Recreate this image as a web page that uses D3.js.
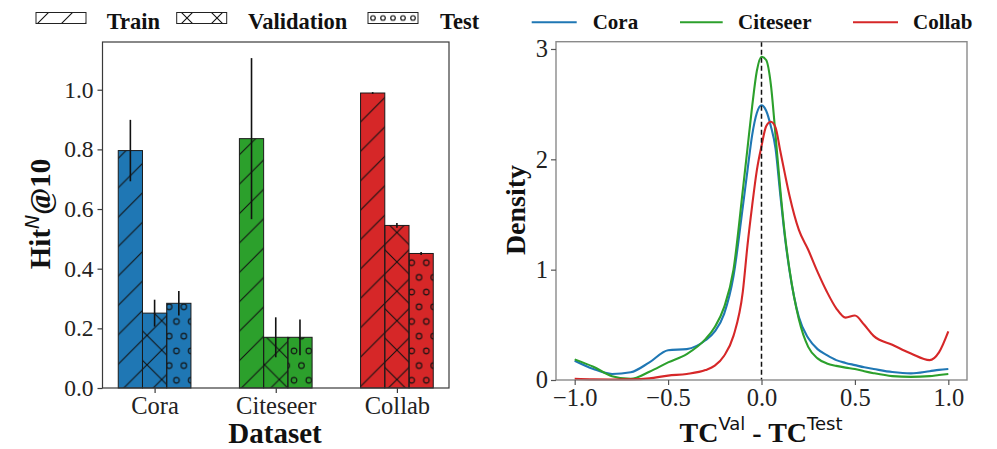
<!DOCTYPE html>
<html><head><meta charset="utf-8">
<script src="https://cdn.jsdelivr.net/npm/d3@7"></script>
<style>
body{margin:0;background:#fff}
svg{display:block}
text{font-family:"Liberation Serif","Times New Roman",serif}
</style>
</head><body>
<svg id="fig" width="997" height="449"></svg>
<script>
// ---- bar panel data: Hit^N@10 per dataset and split ----
const datasets = ["Cora", "Citeseer", "Collab"];
const splits = ["Train", "Validation", "Test"];
const trainMean = [0.796, 0.836, 0.989];
const trainStd  = [0.103, 0.270, 0.003];
const valMean   = [0.251, 0.170, 0.545];
const valStd    = [0.045, 0.067, 0.008];
const testMean  = [0.284, 0.170, 0.451];
const testStd   = [0.041, 0.060, 0.005];
const hitTicks  = [0, 0.2, 0.4, 0.6, 0.8, 1.0];

// ---- density panel data: KDE of TC^Val - TC^Test ----
const tcGrid = [-1.0, -0.9, -0.8, -0.7, -0.6, -0.5, -0.4, -0.3, -0.25, -0.2, -0.15, -0.1,
  -0.075, -0.05, -0.025, 0, 0.025, 0.05, 0.075, 0.1, 0.125, 0.15, 0.2, 0.25, 0.3, 0.35,
  0.4, 0.45, 0.5, 0.55, 0.6, 0.7, 0.8, 0.9, 0.95, 1.0];
const coraDensity = [0.175, 0.10, 0.055, 0.07, 0.16, 0.27, 0.28, 0.36, 0.44, 0.60, 0.94, 1.57,
  1.90, 2.22, 2.42, 2.49, 2.44, 2.30, 2.10, 1.69, 1.30, 0.99, 0.57, 0.38, 0.28, 0.225,
  0.18, 0.155, 0.135, 0.115, 0.10, 0.072, 0.06, 0.08, 0.092, 0.10];
const citeseerDensity = [0.187, 0.12, 0.035, 0.01, 0.075, 0.16, 0.235, 0.37, 0.48, 0.66, 1.0, 1.72,
  2.10, 2.48, 2.80, 2.93, 2.90, 2.68, 2.22, 1.74, 1.32, 1.0, 0.55, 0.30, 0.196, 0.15,
  0.128, 0.112, 0.10, 0.08, 0.062, 0.035, 0.028, 0.035, 0.045, 0.054];
const collabDensity = [0.01, 0.006, 0.005, 0.006, 0.015, 0.04, 0.055, 0.09, 0.13, 0.22, 0.40, 0.80,
  1.22, 1.58, 1.90, 2.12, 2.30, 2.34, 2.29, 2.08, 1.87, 1.67, 1.36, 1.18, 0.98, 0.80,
  0.65, 0.565, 0.585, 0.50, 0.40, 0.32, 0.24, 0.18, 0.25, 0.44];
const tcTicks = [-1.0, -0.5, 0.0, 0.5, 1.0];
const densityTicks = [0, 1, 2, 3];

const palette = ["#1f77b4", "#2ca02c", "#d62728"];

const svg = d3.select("#fig");
const defs = svg.append("defs");

// hatch helpers: '/', 'x' line tiles and 'o' circle tiles
function lineHatch(id, size, ox, oy, both) {
  const p = defs.append("pattern").attr("id", id)
    .attr("patternUnits", "userSpaceOnUse").attr("width", size).attr("height", size)
    .attr("x", ox).attr("y", oy);
  let d = `M0,${size} L${size},0 M-6,6 L6,-6 M${size-6},${size+6} L${size+6},${size-6}`;
  if (both) d += ` M0,0 L${size},${size} M-6,${size-6} L6,${size+6} M${size-6},-6 L${size+6},6`;
  p.append("path").attr("d", d).attr("stroke", "#111").attr("stroke-width", 1.1).attr("fill", "none");
}
function dotHatch(id, w, h, ox, oy, r, stagger) {
  const p = defs.append("pattern").attr("id", id)
    .attr("patternUnits", "userSpaceOnUse").attr("width", w).attr("height", h)
    .attr("x", ox).attr("y", oy);
  const pts = stagger ? [[0, 0], [w, 0], [0, h], [w, h], [w / 2, h / 2]] : [[w / 2, h / 2]];
  pts.forEach(([cx, cy]) => p.append("circle").attr("cx", cx).attr("cy", cy).attr("r", r)
    .attr("fill", "none").attr("stroke", "#111").attr("stroke-width", 1.1));
}
lineHatch("h-diag", 29.4, 0, 12, false);
lineHatch("h-cross", 29.4, 0, 12, true);
dotHatch("h-dots", 14.7, 29.4, 0.1, 27.5, 2.8, true);
// legend swatches use their own, finer tiles
lineHatch("l-diag", 24, 0, 13, false);
lineHatch("l-cross", 30, 7, 18, true);
dotHatch("l-dots", 10, 11, 378, 12.5, 2.3, false);
const hatchIds = ["h-diag", "h-cross", "h-dots"];
const legendHatchIds = ["l-diag", "l-cross", "l-dots"];

// ================= left panel: grouped bars =================
const L = {left: 102.5, right: 449, top: 42, bottom: 388};
const frameL = "#3a3a3a";
const xCat = d3.scalePoint().domain(datasets).range([L.left, L.right]).padding(0.43);
const barW = xCat.step() * 0.2;
const yHit = d3.scaleLinear().domain([0, 1.16]).range([L.bottom, L.top]);

const means = [trainMean, valMean, testMean];
const stds = [trainStd, valStd, testStd];

const bars = [];
datasets.forEach((ds, di) => {
  splits.forEach((sp, si) => {
    bars.push({ds, di, si, mean: means[si][di], std: stds[si][di]});
  });
});

const gBars = svg.append("g");
const barX = d => xCat(d.ds) + (d.si - 1.5) * barW;
gBars.selectAll("rect.fill").data(bars).join("rect")
  .attr("x", barX).attr("width", barW)
  .attr("y", d => yHit(d.mean)).attr("height", d => yHit(0) - yHit(d.mean))
  .attr("fill", d => palette[d.di]);
gBars.selectAll("rect.hatch").data(bars).join("rect")
  .attr("x", barX).attr("width", barW)
  .attr("y", d => yHit(d.mean)).attr("height", d => yHit(0) - yHit(d.mean))
  .attr("fill", d => `url(#${hatchIds[d.si]})`);
gBars.selectAll("rect.edge").data(bars).join("rect")
  .attr("x", barX).attr("width", barW)
  .attr("y", d => yHit(d.mean)).attr("height", d => yHit(0) - yHit(d.mean))
  .attr("fill", "none").attr("stroke", "#1a1a1a").attr("stroke-width", 1);
gBars.selectAll("line.err").data(bars).join("line")
  .attr("x1", d => barX(d) + barW / 2).attr("x2", d => barX(d) + barW / 2)
  .attr("y1", d => yHit(d.mean - d.std)).attr("y2", d => yHit(d.mean + d.std))
  .attr("stroke", "#111").attr("stroke-width", 1.6);

// frame
svg.append("rect").attr("x", L.left).attr("y", L.top)
  .attr("width", L.right - L.left).attr("height", L.bottom - L.top)
  .attr("fill", "none").attr("stroke", frameL).attr("stroke-width", 1.2);

// y axis
const yAxisL = svg.append("g").attr("transform", `translate(${L.left},0)`)
  .call(d3.axisLeft(yHit).tickValues(hitTicks).tickFormat(d3.format(".1f")).tickSize(5).tickPadding(4));
yAxisL.select(".domain").remove();
yAxisL.selectAll("line").attr("stroke", frameL).attr("stroke-width", 1.2);
yAxisL.selectAll("text").attr("font-size", 23.5).attr("fill", "#222")
  .style("font-family", "'Liberation Serif', serif");

// x axis (category ticks)
const xAxisL = svg.append("g").attr("transform", `translate(0,${L.bottom})`)
  .call(d3.axisBottom(xCat).tickSize(5).tickPadding(4));
xAxisL.select(".domain").remove();
xAxisL.selectAll("line").attr("stroke", frameL).attr("stroke-width", 1.2);
xAxisL.selectAll("text").attr("font-size", 24.5).attr("fill", "#222")
  .style("font-family", "'Liberation Serif', serif");

svg.append("text").attr("x", 275).attr("y", 443).attr("text-anchor", "middle")
  .attr("font-size", 29).attr("font-weight", "bold").attr("fill", "#111").text("Dataset");

// y label Hit^N@10
const yl = svg.append("text").attr("transform", "translate(50,214) rotate(-90)")
  .attr("text-anchor", "middle").attr("font-size", 29).attr("font-weight", "bold").attr("fill", "#111");
yl.append("tspan").text("Hit");
yl.append("tspan").attr("dy", -11).attr("font-size", 19).attr("font-weight", "normal")
  .attr("font-style", "italic").style("font-family", "'DejaVu Sans', sans-serif").text("N");
yl.append("tspan").attr("dy", 11).text("@10");

// legend (hatched patches)
const legPatchX = [36, 176.7, 368];
const legTextX = [106.7, 248, 440];
splits.forEach((sp, si) => {
  svg.append("rect").attr("x", legPatchX[si]).attr("y", 12.5).attr("width", 50).attr("height", 11)
    .attr("fill", "#fff");
  svg.append("rect").attr("x", legPatchX[si]).attr("y", 12.5).attr("width", 50).attr("height", 11)
    .attr("fill", `url(#${legendHatchIds[si]})`).attr("stroke", "#222").attr("stroke-width", 1);
  svg.append("text").attr("x", legTextX[si]).attr("y", 29.3)
    .attr("font-size", 22.5).attr("font-weight", "bold").attr("fill", "#111").text(sp);
});

// ================= right panel: density curves =================
const R = {left: 556, right: 967, top: 41.7, bottom: 380};
const frameR = "#8a8a8a";
const xTc = d3.scaleLinear().domain([-1.1, 1.1]).range([R.left, R.right]);
const yDen = d3.scaleLinear().domain([0, 3.066]).range([R.bottom, R.top]);

const series = [coraDensity, citeseerDensity, collabDensity];
const line = d3.line()
  .x((d, i) => xTc(tcGrid[i])).y(d => yDen(d))
  .curve(d3.curveMonotoneX);

const gLines = svg.append("g");
series.forEach((vals, k) => {
  gLines.append("path").datum(vals).attr("d", line)
    .attr("fill", "none").attr("stroke", palette[k]).attr("stroke-width", 2.1)
    .attr("stroke-linejoin", "round");
});

// reference line at zero difference
svg.append("line").attr("x1", xTc(0)).attr("x2", xTc(0))
  .attr("y1", R.top).attr("y2", R.bottom)
  .attr("stroke", "#111").attr("stroke-width", 1.5).attr("stroke-dasharray", "5,3");

svg.append("rect").attr("x", R.left).attr("y", R.top)
  .attr("width", R.right - R.left).attr("height", R.bottom - R.top)
  .attr("fill", "none").attr("stroke", frameR).attr("stroke-width", 1.4);

const fmtTc = d => d3.format(".1f")(d).replace("-", "\u2212");
const xAxisR = svg.append("g").attr("transform", `translate(0,${R.bottom})`)
  .call(d3.axisBottom(xTc).tickValues(tcTicks).tickFormat(fmtTc).tickSize(5).tickPadding(4));
xAxisR.select(".domain").remove();
xAxisR.selectAll("line").attr("stroke", "#555").attr("stroke-width", 1.2);
xAxisR.selectAll("text").attr("font-size", 24.5).attr("fill", "#222")
  .style("font-family", "'Liberation Serif', serif");

const yAxisR = svg.append("g").attr("transform", `translate(${R.left},0)`)
  .call(d3.axisLeft(yDen).tickValues(densityTicks).tickFormat(d3.format("d")).tickSize(5).tickPadding(3));
yAxisR.select(".domain").remove();
yAxisR.selectAll("line").attr("stroke", "#555").attr("stroke-width", 1.2);
yAxisR.selectAll("text").attr("font-size", 24.5).attr("fill", "#222")
  .style("font-family", "'Liberation Serif', serif");

svg.append("text").attr("transform", "translate(525,210) rotate(-90)")
  .attr("text-anchor", "middle").attr("font-size", 28).attr("font-weight", "bold")
  .attr("fill", "#111").text("Density");

const xl = svg.append("text").attr("x", 761).attr("y", 442).attr("text-anchor", "middle")
  .attr("font-size", 28).attr("font-weight", "bold").attr("fill", "#111");
xl.append("tspan").text("TC");
xl.append("tspan").attr("dy", -12).attr("font-size", 18).attr("font-weight", "normal")
  .style("font-family", "'DejaVu Sans', sans-serif").text("Val");
xl.append("tspan").attr("dy", 12).text(" - TC");
xl.append("tspan").attr("dy", -12).attr("font-size", 18).attr("font-weight", "normal")
  .style("font-family", "'DejaVu Sans', sans-serif").text("Test");

// legend (line handles)
const legLineX = [[531.7, 576.7], [680, 722.7], [853, 898]];
const legLabelX = [592.7, 738, 913];
datasets.forEach((ds, k) => {
  svg.append("line").attr("x1", legLineX[k][0]).attr("x2", legLineX[k][1])
    .attr("y1", 22.3).attr("y2", 22.3).attr("stroke", palette[k]).attr("stroke-width", 2.1);
  svg.append("text").attr("x", legLabelX[k]).attr("y", 29.3)
    .attr("font-size", 21).attr("font-weight", "bold").attr("fill", "#111").text(ds);
});
</script>
</body></html>
